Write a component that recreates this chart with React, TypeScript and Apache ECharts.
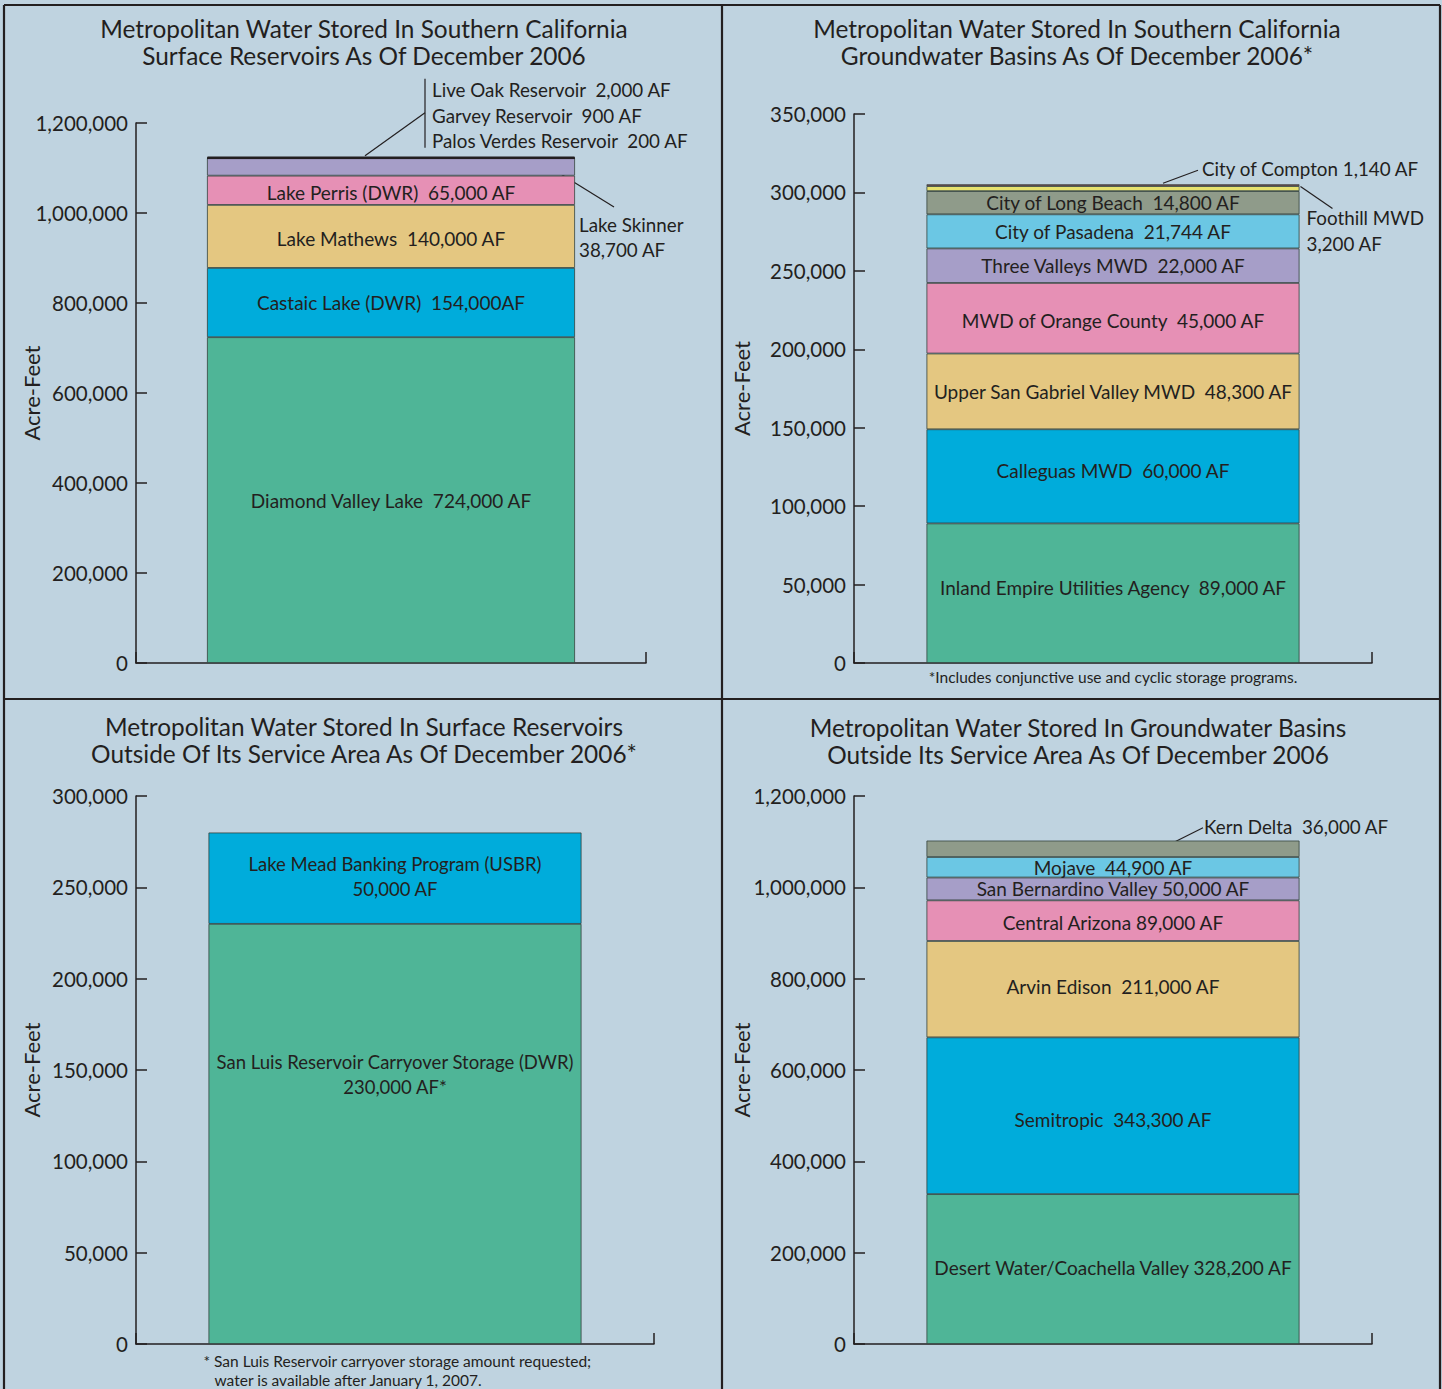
import React, { useEffect, useRef } from "react";
import * as echarts from "echarts";

const FONT = "Lato";
const INK = "#231f20";
const BG = "#bfd3e0";
const GREEN = "#4fb597";
const BLUE = "#00acdb";
const YELLOW = "#e4c781";
const PINK = "#e690b5";
const LAVENDER = "#a69ec8";
const SKY = "#6bc7e4";
const GRAY = "#8f9b8a";
const DARK = "#231f20";
const LEMON = "#e8e26e";
const CRIMSON = "#c2354f";

// ---------- Panel 1: Southern California surface reservoirs ----------
const p1Names = ["Diamond Valley Lake", "Castaic Lake (DWR)", "Lake Mathews", "Lake Perris (DWR)", "Lake Skinner", "Palos Verdes Reservoir", "Garvey Reservoir", "Live Oak Reservoir"];
const p1Values = [724000, 154000, 140000, 65000, 38700, 200, 900, 2000];
const p1Labels = ["Diamond Valley Lake  724,000 AF", "Castaic Lake (DWR)  154,000AF", "Lake Mathews  140,000 AF", "Lake Perris (DWR)  65,000 AF", "", "", "", ""];
const p1Ticks = [0, 200000, 400000, 600000, 800000, 1000000, 1200000];

// ---------- Panel 2: Southern California groundwater basins ----------
const p2Names = ["Inland Empire Utilities Agency", "Calleguas MWD", "Upper San Gabriel Valley MWD", "MWD of Orange County", "Three Valleys MWD", "City of Pasadena", "City of Long Beach", "Foothill MWD", "City of Compton"];
const p2Values = [89000, 60000, 48300, 45000, 22000, 21744, 14800, 3200, 1140];
const p2Labels = ["Inland Empire Utilities Agency  89,000 AF", "Calleguas MWD  60,000 AF", "Upper San Gabriel Valley MWD  48,300 AF", "MWD of Orange County  45,000 AF", "Three Valleys MWD  22,000 AF", "City of Pasadena  21,744 AF", "City of Long Beach  14,800 AF", "", ""];
const p2Ticks = [0, 50000, 100000, 150000, 200000, 250000, 300000, 350000];

// ---------- Panel 3: Surface reservoirs outside service area ----------
const p3Names = ["San Luis Reservoir Carryover Storage (DWR)", "Lake Mead Banking Program (USBR)"];
const p3Values = [230000, 50000];
const p3Labels = ["San Luis Reservoir Carryover Storage (DWR)\n230,000 AF*", "Lake Mead Banking Program (USBR)\n50,000 AF"];
const p3Ticks = [0, 50000, 100000, 150000, 200000, 250000, 300000];

// ---------- Panel 4: Groundwater basins outside service area ----------
const p4Names = ["Desert Water/Coachella Valley", "Semitropic", "Arvin Edison", "Central Arizona", "San Bernardino Valley", "Mojave", "Kern Delta"];
const p4Values = [328200, 343300, 211000, 89000, 50000, 44900, 36000];
const p4Labels = ["Desert Water/Coachella Valley 328,200 AF", "Semitropic  343,300 AF", "Arvin Edison  211,000 AF", "Central Arizona 89,000 AF", "San Bernardino Valley 50,000 AF", "Mojave  44,900 AF", ""];
const p4Ticks = [0, 200000, 400000, 600000, 800000, 1000000, 1200000];

const titles = [
  ["Metropolitan Water Stored In Southern California", "Surface Reservoirs As Of December 2006"],
  ["Metropolitan Water Stored In Southern California", "Groundwater Basins As Of December 2006*"],
  ["Metropolitan Water Stored In Surface Reservoirs", "Outside Of Its Service Area As Of December 2006*"],
  ["Metropolitan Water Stored In Groundwater Basins", "Outside Its Service Area As Of December 2006"],
];

const panels = [
  { names: p1Names, values: p1Values, labels: p1Labels, ticks: p1Ticks, colors: [GREEN, BLUE, YELLOW, PINK, LAVENDER, DARK, DARK, DARK], offsets: { 3: [0, 2], 2: [0, 2] } as Record<number, number[]> },
  { names: p2Names, values: p2Values, labels: p2Labels, ticks: p2Ticks, colors: [GREEN, BLUE, YELLOW, PINK, LAVENDER, SKY, GRAY, LEMON, CRIMSON], offsets: { 0: [0, -6], 1: [0, -6], 3: [0, 2] } as Record<number, number[]> },
  { names: p3Names, values: p3Values, labels: p3Labels, ticks: p3Ticks, colors: [GREEN, BLUE], offsets: { 0: [0, -59], 1: [0, -2] } as Record<number, number[]> },
  { names: p4Names, values: p4Values, labels: p4Labels, ticks: p4Ticks, colors: [GREEN, BLUE, YELLOW, PINK, LAVENDER, SKY, GRAY], offsets: { 0: [0, -2], 1: [0, 4], 2: [0, -3], 3: [0, 2] } as Record<number, number[]> },
];

const grids = [
  { left: 136, top: 123, width: 510, height: 540, barWidth: 368, nameGap: 94 },
  { left: 854, top: 114, width: 518, height: 549, barWidth: 373, nameGap: 102 },
  { left: 136, top: 796, width: 518, height: 548, barWidth: 373, nameGap: 94 },
  { left: 854, top: 796, width: 518, height: 548, barWidth: 373, nameGap: 102 },
];

const fmt = (v: number) => v.toLocaleString("en-US");

function buildOption() {
  const series: any[] = [];
  panels.forEach((p, gi) => {
    p.values.forEach((v, i) => {
      const dark = p.colors[i] === DARK;
      series.push({
        type: "bar",
        name: p.names[i],
        xAxisIndex: gi,
        yAxisIndex: gi,
        stack: "s" + gi,
        barWidth: grids[gi].barWidth,
        data: [v],
        itemStyle: { color: p.colors[i], borderColor: dark ? DARK : "#34423e", borderWidth: dark ? 1.6 : 0.8 },
        label: {
          show: !!p.labels[i],
          position: "inside",
          formatter: p.labels[i],
          color: INK,
          fontFamily: FONT,
          fontSize: gi === 2 ? 18.5 : 19,
          lineHeight: 25,
          offset: p.offsets[i] || [0, 0],
        },
      });
    });
  });
  return {
    animation: false,
    backgroundColor: BG,
    grid: grids.map((g) => ({ left: g.left, top: g.top, width: g.width, height: g.height, containLabel: false })),
    xAxis: grids.map((_, gi) => ({
      type: "category",
      gridIndex: gi,
      data: [""],
      axisLine: { show: true, lineStyle: { color: INK, width: 1.5 } },
      axisTick: { show: true, inside: true, length: 11, lineStyle: { color: INK, width: 1.5 } },
      axisLabel: { show: false },
      splitLine: { show: false },
    })),
    yAxis: panels.map((p, gi) => ({
      type: "value",
      gridIndex: gi,
      min: p.ticks[0],
      max: p.ticks[p.ticks.length - 1],
      interval: p.ticks[1] - p.ticks[0],
      axisLine: { show: true, lineStyle: { color: INK, width: 1.5 } },
      axisTick: { show: true, inside: true, length: 11, lineStyle: { color: INK, width: 1.5 } },
      splitLine: { show: false },
      axisLabel: { color: INK, fontFamily: FONT, fontSize: 20.5, margin: 8, formatter: (v: number) => fmt(v) },
      name: "Acre-Feet",
      nameLocation: "middle",
      nameRotate: 90,
      nameGap: grids[gi].nameGap,
      nameMoveOverlap: false,
      nameTextStyle: { color: INK, fontFamily: FONT, fontSize: 22 },
    })),
    series,
  };
}

function txt(text: string, x: number, y: number, size: number, align: string = "left") {
  return {
    type: "text",
    silent: true,
    style: { text, x, y, fill: INK, font: `${size}px ${FONT}`, textAlign: align, textVerticalAlign: "middle" },
  };
}
function ln(x1: number, y1: number, x2: number, y2: number, w = 1.2) {
  return { type: "line", silent: true, shape: { x1, y1, x2, y2 }, style: { stroke: INK, lineWidth: w } };
}

export default function App() {
  const ref = useRef<HTMLDivElement>(null);
  useEffect(() => {
    const chart = echarts.init(ref.current!, null, { renderer: "svg" });
    chart.setOption(buildOption());

    const px = (g: number, v: number) => chart.convertToPixel({ gridIndex: g }, [0, v]) as number[];
    const cum = (vals: number[], n: number) => vals.slice(0, n).reduce((a, b) => a + b, 0);

    const els: any[] = [];
    // panel frames
    els.push(ln(4, 5, 1440, 5, 2.2), ln(4, 5, 4, 1389, 2.2), ln(722, 5, 722, 1389, 2.2), ln(1440, 5, 1440, 1389, 2.2), ln(4, 699, 1440, 699, 2.2));
    // titles
    const tpos = [[364, 28], [1077, 28], [364, 726], [1078, 727]];
    titles.forEach((t, i) => {
      els.push(txt(t[0], tpos[i][0], tpos[i][1], 24.4, "center"));
      els.push(txt(t[1], tpos[i][0], tpos[i][1] + 27, 24.4, "center"));
    });

    const ES = 18.8;
    // Panel 1 external labels
    {
      const bw = grids[0].barWidth;
      const total = cum(p1Values, p1Values.length);
      const [cx, top] = px(0, total);
      const barR = cx + bw / 2;
      const sk = px(0, cum(p1Values, 4) + p1Values[4] / 2)[1];
      els.push(ln(barR - 32, sk - 4, barR + 39, sk + 40));
      els.push(txt(`${p1Names[4]}`, barR + 4, sk + 58, ES));
      els.push(txt(`${fmt(p1Values[4])} AF`, barR + 4, sk + 83, ES));
      els.push(ln(cx - 26, top - 1, cx + 34, top - 44));
      els.push(ln(cx + 34, top - 78, cx + 34, top - 9));
      els.push(txt(`${p1Names[7]}  ${fmt(p1Values[7])} AF`, cx + 41, top - 67, ES));
      els.push(txt(`${p1Names[6]}  ${fmt(p1Values[6])} AF`, cx + 41, top - 41, ES));
      els.push(txt(`${p1Names[5]}  ${fmt(p1Values[5])} AF`, cx + 41, top - 16, ES));
    }
    // Panel 2 external labels
    {
      const bw = grids[1].barWidth;
      const total = cum(p2Values, p2Values.length);
      const [cx, top] = px(1, total);
      const barR = cx + bw / 2;
      els.push(ln(cx + 50, top - 1, cx + 85, top - 14));
      els.push(txt(`${p2Names[8]} ${fmt(p2Values[8])} AF`, cx + 89, top - 16, ES));
      const fm = px(1, cum(p2Values, 7) + p2Values[7] / 2)[1];
      els.push(ln(barR + 1, fm - 2, barR + 33, fm + 20));
      els.push(txt(p2Names[7], barR + 7, fm + 29, ES));
      els.push(txt(`${fmt(p2Values[7])} AF`, barR + 7, fm + 55, ES));
      const [, base] = px(1, 0);
      els.push(txt("*Includes conjunctive use and cyclic storage programs.", cx, base + 14, 15.5, "center"));
    }
    // Panel 3 footnote
    {
      const [cx, base] = px(2, 0);
      const left = cx - grids[2].barWidth / 2;
      els.push(txt("* San Luis Reservoir carryover storage amount requested;", left - 5, base + 17, 15.5));
      els.push(txt("water is available after January 1, 2007.", left + 6, base + 36, 15.5));
    }
    // Panel 4 external label
    {
      const [cx] = px(3, 0);
      const km = px(3, cum(p4Values, 6) + p4Values[6] / 2)[1];
      els.push(ln(cx + 58, km - 5, cx + 90, km - 21));
      els.push(txt(`${p4Names[6]}  ${fmt(p4Values[6])} AF`, cx + 91, km - 22, ES));
    }

    chart.setOption({ graphic: { elements: els } });
    return () => chart.dispose();
  }, []);
  return <div ref={ref} style={{ position: "absolute", left: 0, top: 0, width: 1442, height: 1389 }} />;
}
